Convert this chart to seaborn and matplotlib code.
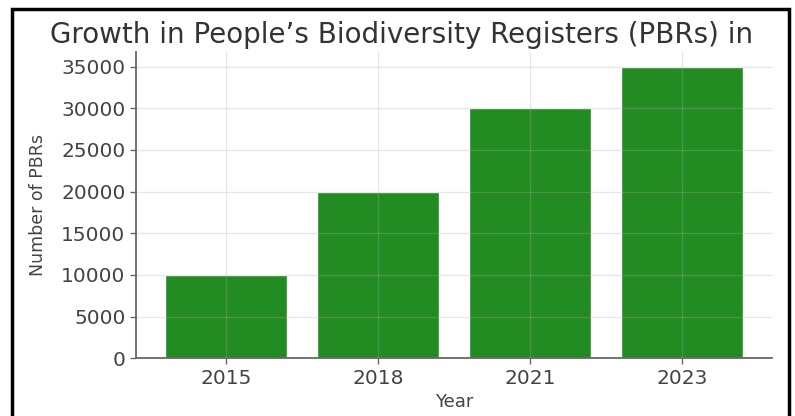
import pandas as pd
import seaborn as sns
import matplotlib.pyplot as plt
from matplotlib.patches import Rectangle

# data
years = ["2015", "2018", "2021", "2023"]
pbr_counts = [10000, 20000, 30000, 35000]
title_text = "Growth in People\u2019s Biodiversity Registers (PBRs) in"


def main():
    df = pd.DataFrame({"Year": years, "Number of PBRs": pbr_counts})

    sns.set_style("white")
    plt.rcParams['font.family'] = ['DejaVu Sans']

    fig = plt.figure(figsize=(7.95, 4.16), dpi=100)
    ax = fig.add_axes([0.171, 0.139, 0.800, 0.736])

    sns.barplot(data=df, x="Year", y="Number of PBRs", color="#228B22",
                saturation=1, width=0.8, ax=ax)

    # matplotlib-like margins instead of seaborn's tight category limits
    ax.set_xlim(-0.59, 3.59)
    ax.set_ylim(0, 36750)
    ax.set_yticks(range(0, 35001, 5000))

    # faint grid drawn over the bars
    ax.set_axisbelow(False)
    ax.grid(True, color="#b0b0b0", alpha=0.3, linewidth=0.9)

    for side in ["top", "right"]:
        ax.spines[side].set_visible(False)
    for side in ["left", "bottom"]:
        ax.spines[side].set_color("#666666")
        ax.spines[side].set_linewidth(1.3)

    ax.tick_params(axis="both", labelsize=14.5, labelcolor="#444444",
                   color="#666666", length=4, width=1, direction="out",
                   left=True, bottom=True)
    ax.set_xlabel("Year", fontsize=13, color="#444444", labelpad=4)
    ax.set_ylabel("Number of PBRs", fontsize=12.5, color="#444444", labelpad=10)

    # the title is cut off on the right in the original image
    fig.text(50 / 795, 1 - 43 / 416, title_text, fontsize=20,
             color="#333333", ha="left", va="baseline")

    # black frame around the picture (no bottom edge)
    fig.patches.append(Rectangle((11.5 / 795, -0.05), (789 - 11.5) / 795, 1.05 - 8.5 / 416,
                                 transform=fig.transFigure, fill=False,
                                 edgecolor="black", linewidth=2.5))

    fig.savefig("out.png", dpi=100)


if __name__ == '__main__':
    main()
